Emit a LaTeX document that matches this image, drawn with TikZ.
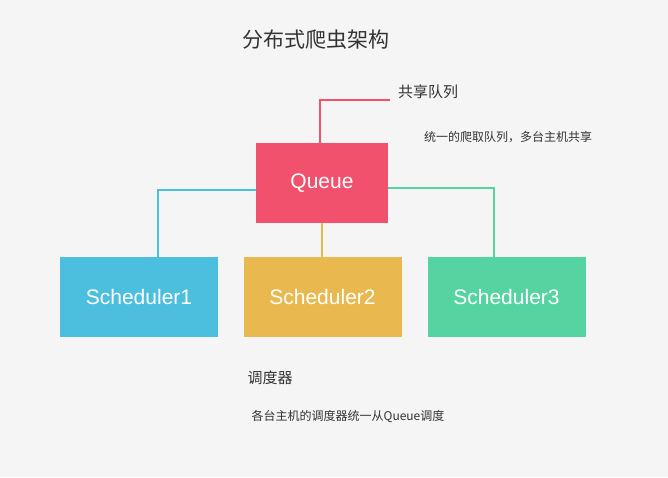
\documentclass[tikz,border=0pt]{standalone}
\usepackage{fontspec}
\setmainfont{Liberation Sans}
\newfontfamily\cjk{Noto Sans CJK SC}
\definecolor{bg}{HTML}{F5F5F5}
\definecolor{qred}{HTML}{F2516D}
\definecolor{sblue}{HTML}{4CBFDF}
\definecolor{syel}{HTML}{E9B950}
\definecolor{sgreen}{HTML}{55D3A1}
\definecolor{txt}{HTML}{333333}
\begin{document}
\begin{tikzpicture}[x=1pt,y=-1pt,
  box/.style={minimum width=158pt,minimum height=80pt,inner sep=0pt,text=white,font=\fontsize{21}{24}\selectfont},
  conn/.style={line width=1.5pt}]
\fill[bg] (0,0) rectangle (668,477);
\useasboundingbox (0,0) rectangle (668,477);
\node[text=txt,font=\cjk\fontsize{21}{24}\selectfont] (title) at (316,40) {分布式爬虫架构};
\node[box,fill=qred,minimum width=132pt] (q) at (322,183) {Queue};
\node[box,fill=sblue] (s1) at (139,297) {Scheduler1};
\node[box,fill=syel] (s2) at (322.5,297) {Scheduler2};
\node[box,fill=sgreen] (s3) at (506.5,297) {Scheduler3};
\coordinate (tend) at (390,100);
\draw[conn,qred] (q.north -| 320,0) |- (tend);
\draw[conn,sblue] (q.west |- 0,190) -| (s1.north -| 158,0);
\draw[conn,syel] (q.south) -- (s2.north -| q.south);
\draw[conn,sgreen] (q.east |- 0,188) -| (s3.north -| 494,0);
\node[text=txt,font=\cjk\fontsize{15}{18}\selectfont] (l1) at (428,92) {共享队列};
\node[text=txt,font=\cjk\fontsize{12}{14}\selectfont] (l2) at (508,137) {统一的爬取队列，多台主机共享};
\node[text=txt,font=\cjk\fontsize{15}{18}\selectfont] (l3) at (270,378) {调度器};
\node[text=txt,font=\cjk\fontsize{12}{14}\selectfont] (l4) at (348,417) {各台主机的调度器统一从Queue调度};
\end{tikzpicture}
\end{document}
